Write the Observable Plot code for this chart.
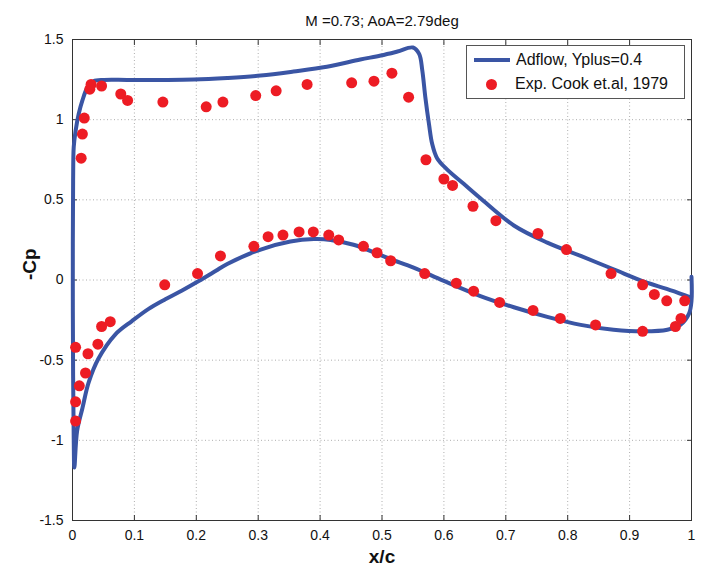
<!DOCTYPE html>
<html>
<head>
<meta charset="utf-8">
<script src="https://cdn.jsdelivr.net/npm/d3@7"></script>
<script src="https://cdn.jsdelivr.net/npm/@observablehq/plot@0.6"></script>
<style>
  body { margin: 0; background: #fff; }
  #wrap { position: relative; width: 708px; height: 572px; font-family: "Liberation Sans", Arial, sans-serif; }
  #legend { position: absolute; left: 466px; top: 45px; width: 217px; height: 52px; border: 1px solid #555; background: #fff; font-size: 16px; color: #111; }
  .row { position: absolute; left: 0; height: 20px; display: flex; align-items: center; white-space: nowrap; }
  .swline { width: 36px; height: 4px; background: #3a55a4; margin-left: 7px; margin-right: 6px; }
  .swdot { width: 11px; height: 11px; border-radius: 50%; background: #ed1c24; margin-left: 19px; margin-right: 18px; }
</style>
</head>
<body>
<div id="wrap">
  <div id="chart"></div>
  <div id="legend">
    <div class="row" style="top:4px"><span class="swline"></span><span>Adflow, Yplus=0.4</span></div>
    <div class="row" style="top:28px"><span class="swdot"></span><span>Exp. Cook et.al, 1979</span></div>
  </div>
</div>
<script>
// CFD line (Adflow), traced along the airfoil: upper surface TE -> LE -> lower surface -> TE
const cfdX = [1.0, 0.993, 0.96, 0.928, 0.874, 0.821, 0.767, 0.713, 0.659, 0.632, 0.605, 0.589, 0.581, 0.576, 0.570, 0.565, 0.560, 0.550, 0.525, 0.498, 0.465, 0.411, 0.357, 0.304, 0.25, 0.196, 0.142, 0.088, 0.051, 0.034, 0.024, 0.016, 0.010, 0.005, 0.002, 0.001, 0.0005, 0.001, 0.002, 0.003,
  0.0075, 0.016, 0.026, 0.042, 0.069, 0.096, 0.123, 0.150, 0.177, 0.204, 0.231, 0.25, 0.304, 0.352, 0.390, 0.417, 0.454, 0.492, 0.514, 0.551, 0.600, 0.659, 0.713, 0.767, 0.821, 0.874, 0.923, 0.961, 0.982, 0.996, 1.0, 1.0];
const cfdY = [-0.11, -0.10, -0.055, -0.017, 0.067, 0.15, 0.233, 0.34, 0.51, 0.60, 0.69, 0.76, 0.85, 0.97, 1.14, 1.31, 1.41, 1.45, 1.425, 1.40, 1.375, 1.33, 1.30, 1.275, 1.26, 1.25, 1.248, 1.248, 1.248, 1.24, 1.20, 1.12, 1.035, 0.93, 0.83, 0.62, 0.0, -0.6, -1.0, -1.17,
  -0.94, -0.80, -0.64, -0.49, -0.34, -0.256, -0.18, -0.12, -0.065, -0.006, 0.056, 0.10, 0.19, 0.24, 0.255, 0.25, 0.22, 0.165, 0.13, 0.077, -0.006, -0.10, -0.17, -0.23, -0.28, -0.31, -0.32, -0.31, -0.28, -0.21, -0.13, 0.02];

// Experimental data (Cook et al., 1979)
const expX = [0.014, 0.016, 0.019, 0.028, 0.030, 0.047, 0.078, 0.089, 0.146, 0.216, 0.243, 0.296, 0.329, 0.379, 0.451, 0.487, 0.516, 0.543, 0.571, 0.600, 0.614, 0.647, 0.684, 0.752, 0.798, 0.870, 0.921, 0.940, 0.960, 0.989,
  0.005, 0.005, 0.011, 0.021, 0.025, 0.005, 0.041, 0.047, 0.061, 0.149, 0.202, 0.239, 0.293, 0.316, 0.340, 0.366, 0.389, 0.414, 0.430, 0.470, 0.492, 0.514, 0.569, 0.620, 0.648, 0.690, 0.744, 0.788, 0.845, 0.921, 0.974, 0.983];
const expY = [0.76, 0.91, 1.01, 1.19, 1.22, 1.21, 1.16, 1.12, 1.11, 1.08, 1.11, 1.15, 1.18, 1.22, 1.23, 1.24, 1.29, 1.14, 0.75, 0.63, 0.59, 0.46, 0.37, 0.29, 0.19, 0.04, -0.03, -0.09, -0.13, -0.13,
  -0.88, -0.76, -0.66, -0.58, -0.46, -0.42, -0.40, -0.29, -0.26, -0.03, 0.04, 0.15, 0.21, 0.27, 0.28, 0.30, 0.30, 0.28, 0.25, 0.21, 0.17, 0.12, 0.04, -0.02, -0.07, -0.14, -0.19, -0.24, -0.28, -0.32, -0.29, -0.24];

const xTicks = [0, 0.1, 0.2, 0.3, 0.4, 0.5, 0.6, 0.7, 0.8, 0.9, 1];
const yTicks = [-1.5, -1, -0.5, 0, 0.5, 1, 1.5];
const titleText = "M =0.73; AoA=2.79deg";
const xLabel = "x/c";
const yLabel = "-Cp";

const cfd = cfdX.map((x, i) => ({x, y: cfdY[i]}));
const exp = expX.map((x, i) => ({x, y: expY[i]}));
const fmt = d => String(d);
const gridStyle = {stroke: "#999", strokeOpacity: 1, strokeWidth: 0.8, strokeDasharray: "1,2.5"};

const chart = Plot.plot({
  width: 708,
  height: 572,
  marginLeft: 72,
  marginRight: 17,
  marginTop: 39,
  marginBottom: 52,
  style: {fontFamily: "Liberation Sans, Arial, sans-serif", fontSize: "14px", color: "#111", background: "#fff"},
  x: {domain: [0, 1]},
  y: {domain: [-1.5, 1.5]},
  marks: [
    Plot.gridX(xTicks, gridStyle),
    Plot.gridY(yTicks, gridStyle),
    Plot.axisX(xTicks, {anchor: "bottom", tickSize: 0, tickPadding: 10, tickFormat: fmt, label: null, fontSize: 14}),
    Plot.axisX(xTicks, {anchor: "bottom", tickSize: -5, text: null, label: null, stroke: "#333"}),
    Plot.axisX(xTicks, {anchor: "top", tickSize: -5, text: null, label: null, stroke: "#333"}),
    Plot.axisY(yTicks, {anchor: "left", tickSize: 0, tickPadding: 9, tickFormat: fmt, label: null, fontSize: 14}),
    Plot.axisY(yTicks, {anchor: "left", tickSize: -5, text: null, label: null, stroke: "#333"}),
    Plot.axisY(yTicks, {anchor: "right", tickSize: -5, text: null, label: null, stroke: "#333"}),
    Plot.frame({stroke: "#333", strokeWidth: 1}),
    Plot.line(cfd, {x: "x", y: "y", stroke: "#3a55a4", strokeWidth: 4, strokeLinejoin: "round", strokeLinecap: "round", curve: "catmull-rom"}),
    Plot.dot(exp, {x: "x", y: "y", r: 5.5, fill: "#ed1c24", stroke: "none"}),
    Plot.text([titleText], {frameAnchor: "top", dy: -24, text: d => d, fontSize: 15, fill: "#111"}),
    Plot.text([xLabel], {frameAnchor: "bottom", dy: 42, text: d => d, fontSize: 19, fontWeight: "bold", fill: "#111"}),
    Plot.text([yLabel], {frameAnchor: "left", dx: -43, rotate: -90, text: d => d, fontSize: 19, fontWeight: "bold", fill: "#111"})
  ]
});
document.getElementById("chart").appendChild(chart);
</script>
</body>
</html>
